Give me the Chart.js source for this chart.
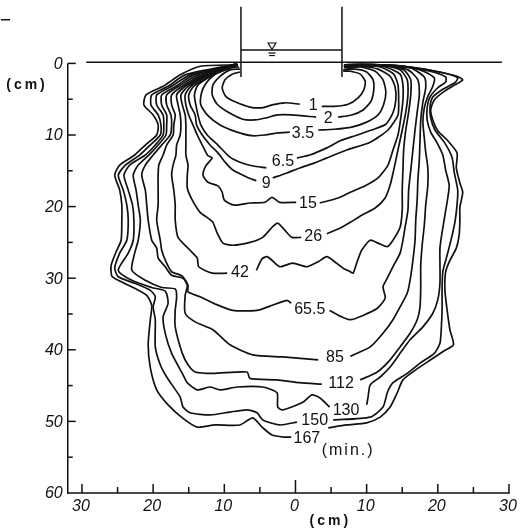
<!DOCTYPE html>
<html><head><meta charset="utf-8">
<script src="https://cdn.jsdelivr.net/npm/chart.js@4/dist/chart.umd.min.js"></script>
<style>html,body{margin:0;padding:0;background:#fff;}canvas{display:block;}</style>
</head><body>
<canvas id="c" width="523" height="532"></canvas>
<script>
// elapsed time (min) of each wetting front
const frontTimes = ["1","2","3.5","6.5","9","15","26","42","65.5","85","112","130","150","167"];
// wetting-front outlines: [horizontal distance cm, depth cm]; null = gap at the time label
const front1 = [[-7.8,1.2],[-8.9,1.5],[-9.9,2.3],[-10.3,3.4],[-9.8,4.6],[-8.4,5.4],[-6.4,6.1],[-4.7,6.2],[-3.3,5.8],[-1.5,5.5],[0.6,5.7],null,[3.7,6.0],[5.5,6.0],[7.4,5.7],[8.8,4.8],[9.6,3.7],[9.8,2.5],[9.1,1.5],[7.7,1.1],[6.7,1.1]];
const front2 = [[-7.8,0.8],[-9.2,0.9],[-10.6,1.8],[-11.6,3.0],[-11.7,4.4],[-11.0,5.7],[-9.5,6.8],[-7.4,7.8],[-5.7,7.9],[-4.1,7.6],[-2.5,7.2],[-0.5,7.2],[2.9,7.5],null,[6.0,7.5],[7.9,7.2],[9.5,6.5],[10.6,5.3],[11.0,3.7],[10.9,2.3],[10.0,1.2],[8.4,0.8],[6.7,0.9]];
const front3_5 = [[-7.9,0.5],[-9.9,0.7],[-11.4,1.6],[-12.6,2.8],[-13.2,4.1],[-13.3,5.8],[-12.3,7.3],[-10.6,8.6],[-8.2,9.6],[-6.1,10.1],[-4.3,10.0],[-2.5,9.7],[-0.8,9.6],null,[3.2,9.3],[5.5,9.2],[7.9,8.9],[10.0,8.2],[11.6,7.2],[12.4,5.7],[12.7,4.0],[12.3,2.3],[11.2,1.1],[9.1,0.5],[6.8,0.6]];
const front6_5 = [[-8.1,0.3],[-11.2,1.4],[-13.7,3.0],[-14.2,4.4],[-14.0,5.8],[-13.7,7.2],[-13.3,8.6],[-12.4,10.0],[-10.9,11.4],[-9.2,13.1],[-7.8,13.8],[-6.1,14.3],[-4.1,14.6],null,[0.2,13.2],[2.0,12.8],[4.4,11.8],[6.3,10.8],[8.4,10.1],[10.7,9.3],[12.7,8.5],[13.7,6.9],[14.1,5.1],[14.0,3.3],[13.3,1.8],[11.6,0.8],[9.1,0.4],[6.8,0.5]];
const front9 = [[-8.2,0.2],[-11.5,1.6],[-14.3,3.2],[-15.0,4.4],[-14.8,5.8],[-14.1,7.2],[-13.9,8.6],[-13.1,10.0],[-12.0,11.4],[-10.9,12.5],[-9.8,13.9],[-8.8,14.9],[-6.8,15.9],[-5.5,16.4],null,[-3.2,16.0],[-1.2,15.3],[0.6,14.6],[2.7,13.9],[4.4,13.2],[7.2,12.1],[10.5,11.0],[13.0,9.3],[14.4,7.2],[14.5,5.1],[14.4,3.0],[13.8,1.5],[11.9,0.5],[9.1,0.2],[6.8,0.4]];
const front15 = [[-8.4,0.2],[-11.9,1.6],[-14.7,3.2],[-15.5,4.4],[-15.4,5.8],[-15.0,7.2],[-14.4,8.6],[-13.8,10.0],[-13.1,11.4],[-12.3,12.9],[-11.7,13.2],[-12.6,14.3],[-13.0,15.6],[-12.3,16.6],[-10.9,17.1],[-10.3,18.0],[-10.0,19.1],[-8.6,19.8],[-6.4,19.5],[-4.3,19.4],[-3.3,18.7],[-2.2,19.4],[0.1,19.4],null,[3.4,19.5],[6.0,18.8],[7.7,18.0],[9.8,17.1],[11.6,16.0],[13.0,14.2],[13.7,12.1],[14.4,10.0],[14.8,7.6],[15.1,5.1],[15.1,3.0],[14.7,1.5],[12.6,0.5],[9.1,0.2],[6.8,0.4]];
const front26 = [[-8.4,0.1],[-12.3,1.6],[-15.1,3.2],[-16.1,4.4],[-15.9,5.8],[-15.5,7.2],[-15.4,8.6],[-15.4,10.0],[-15.4,11.4],[-15.4,12.8],[-15.1,14.2],[-15.2,15.6],[-15.2,17.4],[-14.5,19.1],[-13.4,20.8],[-12.3,21.6],[-11.6,22.2],[-11.0,23.7],[-10.2,25.1],[-8.8,25.4],[-6.4,25.0],[-4.6,24.3],[-3.3,22.9],[-2.5,22.3],[-1.5,23.3],[-0.5,24.3],[0.8,24.3],null,[4.4,23.8],[6.3,23.0],[7.7,22.2],[9.3,21.2],[11.2,20.2],[12.6,18.8],[13.3,17.0],[13.8,14.9],[14.4,12.1],[15.0,9.3],[15.5,6.8],[15.8,4.4],[15.7,2.3],[14.7,0.9],[11.9,0.2],[9.1,0.1],[6.8,0.2]];
const front42 = [[-8.5,0.1],[-12.7,1.6],[-15.5,3.2],[-16.7,4.4],[-16.5,5.8],[-16.2,7.2],[-16.1,8.6],[-16.2,10.0],[-16.7,11.4],[-16.8,12.8],[-17.2,14.2],[-17.4,15.6],[-17.1,17.7],[-16.9,19.8],[-16.9,21.9],[-16.5,24.3],[-14.8,26.1],[-13.8,27.2],[-13.6,28.4],[-11.7,29.3],[-9.6,29.3],null,[-5.5,28.9],[-4.7,27.3],[-4.0,27.0],[-3.3,27.5],[-2.2,28.4],[-0.4,27.9],[1.6,28.4],[3.2,27.7],[4.4,27.0],[5.5,27.7],[6.7,28.6],[7.7,29.1],[8.1,29.3],[8.6,27.9],[9.3,26.1],[10.5,24.7],[11.6,25.1],[12.9,25.6],[13.7,24.7],[14.7,22.9],[15.0,20.5],[15.0,17.7],[15.1,14.9],[15.2,12.1],[15.5,9.3],[15.9,6.8],[16.2,4.4],[16.2,2.3],[15.2,0.9],[11.9,0.2],[7.0,0.2]];
const front65_5 = [[-8.5,0.1],[-13.1,1.6],[-15.9,3.2],[-17.4,4.4],[-17.4,5.8],[-16.9,7.2],[-17.1,8.6],[-17.2,10.0],[-18.1,11.4],[-18.6,12.8],[-19.2,14.2],[-19.3,15.6],[-19.3,17.7],[-19.3,19.8],[-19.5,21.9],[-19.0,24.7],[-18.8,26.1],[-18.2,27.7],[-17.4,29.1],[-15.9,29.7],[-15.1,31.0],[-15.1,31.9],[-13.4,32.6],[-11.3,33.6],[-8.8,34.5],[-5.4,34.5],[-3.6,33.9],[-1.2,33.1],[-0.6,33.5],null,[4.8,34.5],[6.3,35.3],[7.7,35.8],[9.5,35.2],[11.5,34.2],[12.6,32.8],[12.3,31.2],[12.9,30.0],[13.7,28.4],[14.7,26.5],[15.1,24.7],[15.4,22.9],[15.8,20.5],[15.9,17.7],[16.2,14.9],[16.5,12.1],[16.8,9.3],[17.1,6.8],[17.4,4.4],[17.2,2.3],[15.8,0.9],[11.9,0.2],[7.0,0.2]];
const front85 = [[-8.4,0.1],[-13.7,1.6],[-16.4,3.2],[-18.1,4.4],[-18.1,5.8],[-17.5,7.2],[-17.4,8.6],[-17.6,10.0],[-18.8,11.4],[-20.0,12.8],[-21.1,14.2],[-21.6,15.6],[-21.1,17.7],[-20.9,19.8],[-20.7,21.9],[-20.2,24.7],[-19.5,25.8],[-19.3,27.2],[-18.3,28.4],[-17.4,29.6],[-15.8,30.0],[-15.2,31.0],[-15.5,32.4],[-15.5,34.9],[-14.1,36.1],[-11.6,37.2],[-9.2,39.3],[-6.0,40.7],[-1.8,41.0],[3.2,41.4],null,[7.7,40.9],[10.5,39.6],[12.3,37.7],[13.7,35.8],[14.7,34.0],[15.7,32.1],[16.1,30.3],[16.5,27.5],[16.8,24.7],[16.9,21.9],[17.1,19.1],[17.2,16.3],[17.4,13.5],[17.5,10.7],[17.6,7.9],[17.9,5.4],[18.3,3.4],[18.1,1.9],[16.1,0.6],[11.9,0.2],[7.1,0.4]];
const front112 = [[-8.2,0.1],[-14.3,1.6],[-16.8,3.2],[-18.8,4.4],[-18.8,5.8],[-18.1,7.2],[-18.1,8.6],[-18.2,10.0],[-19.3,11.4],[-20.6,12.8],[-22.1,14.2],[-22.8,15.6],[-22.4,17.7],[-22.1,19.8],[-21.8,21.9],[-22.1,24.7],[-22.6,26.5],[-23.0,28.9],[-21.1,30.3],[-18.8,31.3],[-16.9,31.5],[-16.7,32.6],[-16.9,34.5],[-16.9,36.8],[-15.9,40.5],[-15.1,42.1],[-14.1,43.1],[-11.6,43.3],[-6.8,43.1],[-6.4,44.0],[-2.6,44.2],[0.6,44.6],[3.7,44.8],null,[9.1,44.2],[11.5,43.1],[13.3,41.4],[14.7,39.6],[16.1,37.7],[17.1,35.8],[17.5,34.0],[17.6,31.2],[17.6,28.2],[17.8,25.4],[18.1,22.6],[18.3,19.8],[18.6,17.0],[18.6,14.6],[18.3,12.4],[18.1,10.4],[17.9,8.2],[18.1,6.2],[18.6,4.6],[19.3,3.2],[19.5,2.0],[17.5,0.9],[13.3,0.4],[7.1,0.4]];
const front130 = [[-8.2,0.1],[-14.8,1.6],[-17.4,3.2],[-19.5,4.4],[-19.5,5.8],[-18.6,7.2],[-18.5,8.6],[-18.6,10.0],[-19.7,11.4],[-21.1,12.8],[-23.3,14.2],[-24.1,15.6],[-23.5,17.7],[-22.9,19.8],[-22.7,21.9],[-22.8,24.7],[-23.5,26.5],[-24.9,28.9],[-23.0,30.3],[-20.2,31.3],[-18.3,31.8],[-17.9,33.5],[-18.6,35.4],[-18.3,37.7],[-17.4,40.5],[-15.9,43.3],[-15.2,44.6],[-13.8,45.6],[-12.0,45.2],[-10.6,45.6],[-8.2,45.2],[-4.6,45.2],[-2.6,46.0],[-2.5,48.0],[-1.8,48.4],[1.1,47.3],[2.3,46.3],[3.4,46.7],[4.8,48.0],null,[10.0,47.7],[10.2,46.6],[10.5,44.9],[11.9,43.8],[13.3,42.4],[14.7,40.5],[16.1,38.6],[17.9,36.8],[19.3,34.9],[20.0,33.0],[20.3,30.7],[20.3,27.9],[20.3,25.8],[20.6,23.6],[21.0,21.2],[21.4,18.8],[21.6,17.0],[21.1,14.9],[20.7,12.8],[19.9,11.1],[19.0,9.6],[18.5,7.9],[18.5,6.2],[18.9,4.7],[20.0,3.4],[21.1,2.6],[21.1,1.9],[18.9,1.1],[14.7,0.4],[7.1,0.4]];
const front150 = [[-8.1,0.1],[-15.5,1.6],[-17.9,3.2],[-20.2,4.4],[-20.3,5.8],[-19.3,7.2],[-18.9,8.6],[-19.0,10.0],[-20.4,11.4],[-21.9,12.8],[-23.9,14.2],[-24.9,15.6],[-24.2,17.7],[-23.7,19.8],[-23.5,21.9],[-23.7,24.7],[-24.7,26.5],[-25.4,28.6],[-24.9,29.8],[-22.6,30.7],[-20.4,31.7],[-19.7,32.6],[-20.0,34.0],[-19.7,35.8],[-19.7,39.6],[-19.0,42.1],[-18.1,43.8],[-16.2,46.6],[-15.8,48.0],[-14.8,48.8],[-12.0,49.1],[-9.2,48.7],[-6.8,48.4],[-5.4,48.8],[-4.6,49.8],[-2.2,50.5],[0.2,50.1],null,[5.3,49.8],[10.5,49.4],[12.3,48.0],[12.9,46.0],[13.7,44.6],[15.7,43.3],[17.6,41.8],[19.5,40.5],[20.3,39.1],[20.5,36.8],[20.6,34.4],[20.6,31.7],[20.7,29.1],[21.2,27.2],[21.8,24.9],[22.4,22.2],[22.7,19.8],[22.8,17.7],[22.3,15.2],[22.0,13.1],[20.9,11.0],[19.6,9.3],[19.0,7.6],[18.9,6.1],[19.3,4.7],[20.7,3.6],[22.4,2.7],[22.8,2.0],[20.3,1.2],[16.1,0.5],[10.5,0.2],[7.1,0.6]];
const front167 = [[-8.1,0.2],[-13.4,0.4],[-16.2,1.6],[-18.6,3.2],[-21.0,4.4],[-21.3,5.8],[-20.0,7.2],[-19.3,8.6],[-19.5,10.0],[-21.1,11.4],[-22.6,12.8],[-24.7,14.2],[-25.4,15.6],[-24.7,17.7],[-24.4,19.8],[-24.4,21.9],[-24.5,24.7],[-25.2,26.3],[-25.9,28.2],[-25.8,29.7],[-24.7,30.4],[-22.6,31.4],[-20.9,32.4],[-20.2,33.8],[-20.4,35.8],[-20.7,39.3],[-20.4,42.5],[-19.5,45.6],[-17.9,47.7],[-15.9,49.5],[-13.8,50.8],[-11.3,50.5],[-7.8,50.5],[-6.0,49.5],[-4.7,50.8],[-3.3,51.9],[-1.5,52.2],[-0.6,52.2],null,[4.6,50.9],[7.2,50.5],[10.0,50.2],[11.9,49.4],[13.3,48.0],[14.3,46.0],[15.1,44.2],[16.9,42.8],[19.0,41.4],[20.8,40.2],[22.2,39.3],[21.7,37.2],[21.3,34.4],[21.0,31.7],[21.1,29.1],[21.7,27.5],[22.6,25.8],[23.0,24.0],[23.1,21.9],[23.1,20.1],[23.5,18.0],[23.1,16.7],[22.6,14.6],[22.7,12.5],[21.4,10.8],[20.0,9.4],[19.3,7.9],[19.0,6.5],[19.5,5.1],[20.9,3.9],[22.4,3.0],[23.5,2.3],[22.7,1.8],[19.6,1.1],[16.1,0.5],[12.6,0.2],[9.1,0.4],[7.0,0.9]];
const fronts = [front1,front2,front3_5,front6_5,front9,front15,front26,front42,front65_5,front85,front112,front130,front150,front167];
// time-label anchors [cm, cm]
const labelX = [2.5,4.6,1.05,-1.76,-4.1,1.76,2.5,-7.8,2.0,5.55,6.4,7.1,2.7,1.6];
const labelY = [5.7,7.5,9.6,13.6,16.6,19.5,24.0,29.1,34.3,41.0,44.6,48.3,49.8,52.3];
const unitLabel = {text:"(min.)", x:7.4, y:53.9};
// infiltrometer ring and soil surface
const soilSurface = [[-29.4,-0.15],[29.0,-0.15]];
const ringLeft = [[-7.66,-7.9],[-7.66,1.9]];
const ringRight = [[6.53,-7.9],[6.53,1.9]];
const waterLevel = [[-7.66,-1.87],[6.53,-1.87]];
const cornerMark = [[-41.4,-6.1],[-40.1,-6.1]];
// axes
const axisLeftX = -32;
const yTickValues = [0,10,20,30,40,50,60];
const yTickLabels = ["0","10","20","30","40","50","60"];
const xTickValues = [-30,-20,-10,0,10,20,30];
const xTickLabels = ["30","20","10","0","10","20","30"];

const toXY = arr => arr.map(p => p ? {x:p[0], y:p[1]} : {x:null, y:null});

const datasets = fronts.map((f,i) => ({
  label: frontTimes[i] + ' min', data: toXY(f), showLine: true, borderColor: '#111',
  borderWidth: 1.7, pointRadius: 0, tension: 0.22, spanGaps: false, fill: false
}));
[soilSurface, ringLeft, ringRight, waterLevel, cornerMark].forEach(s => datasets.push({
  data: toXY(s), showLine: true, borderColor: '#111', borderWidth: 1.5, pointRadius: 0, tension: 0, fill: false
}));

const overlay = {
  id: 'overlay',
  afterDatasetsDraw(chart) {
    const ctx = chart.ctx, xs = chart.scales.x, ys = chart.scales.y;
    const X = v => xs.getPixelForValue(v), Y = v => ys.getPixelForValue(v);
    ctx.save();
    ctx.strokeStyle = '#111'; ctx.fillStyle = '#111'; ctx.lineWidth = 1.5;
    const seg = (x1,y1,x2,y2) => { ctx.beginPath(); ctx.moveTo(x1,y1); ctx.lineTo(x2,y2); ctx.stroke(); };
    const ax = X(axisLeftX);
    seg(ax, Y(0), ax, Y(60) + 0.75);
    seg(ax - 0.75, Y(60), X(30) + 0.75, Y(60));
    for (let v = 0; v < 60; v += 5) seg(ax, Y(v), ax + (v % 10 === 0 ? 8 : 5), Y(v));
    for (let v = -30; v <= 30; v += 5) {
      const len = v === 0 ? 13 : (v % 10 === 0 ? 9 : 6);
      seg(X(v), Y(60), X(v), Y(60) - len);
    }
    // water level symbol
    ctx.lineWidth = 1.2;
    ctx.beginPath();
    ctx.moveTo(X(-3.85), Y(-2.85)); ctx.lineTo(X(-2.75), Y(-2.85)); ctx.lineTo(X(-3.3), Y(-1.95)); ctx.closePath(); ctx.stroke();
    seg(X(-3.8), Y(-1.45), X(-2.8), Y(-1.45));
    seg(X(-3.7), Y(-1.1), X(-2.9), Y(-1.1));
    // tick labels
    ctx.font = 'italic 16px "Liberation Sans", Arial, sans-serif';
    ctx.textAlign = 'right'; ctx.textBaseline = 'middle';
    yTickValues.forEach((v,i) => ctx.fillText(yTickLabels[i], ax - 5, Y(v) + 1));
    ctx.textAlign = 'center';
    xTickValues.forEach((v,i) => ctx.fillText(xTickLabels[i], X(v) - 1, Y(60) + 14));
    // unit labels
    ctx.font = 'bold 14px "Liberation Sans", Arial, sans-serif';
    ctx.letterSpacing = '3px';
    ctx.fillText('(cm)', 27, Y(3.1));
    ctx.fillText('(cm)', X(4.9), Y(60) + 28);
    // front time labels
    ctx.letterSpacing = '0px';
    ctx.font = '16px "Liberation Sans", Arial, sans-serif';
    frontTimes.forEach((t,i) => ctx.fillText(t, X(labelX[i]), Y(labelY[i]) + 1));
    ctx.letterSpacing = '2px';
    ctx.fillText(unitLabel.text, X(unitLabel.x), Y(unitLabel.y) + 1);
    ctx.restore();
  }
};

new Chart(document.getElementById('c'), {
  type: 'scatter',
  data: { datasets },
  options: {
    responsive: false, animation: false, devicePixelRatio: 1,
    layout: { padding: 0 },
    plugins: { legend: { display: false }, tooltip: { enabled: false } },
    scales: {
      x: { type: 'linear', min: -41.52, max: 31.97, display: false },
      y: { type: 'linear', min: -8.855, max: 65.45, reverse: true, display: false }
    }
  },
  plugins: [overlay]
});
</script>
</body></html>
